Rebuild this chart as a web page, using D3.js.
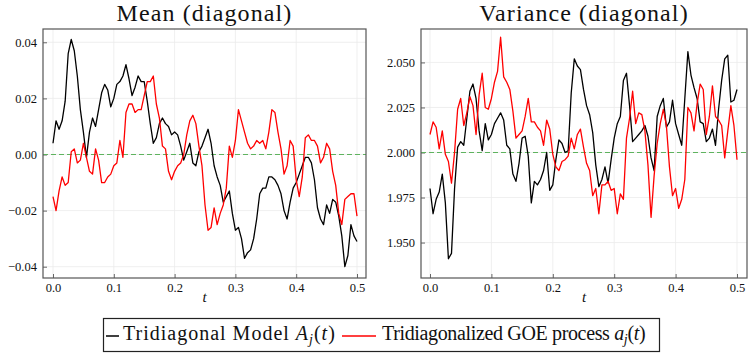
<!DOCTYPE html>
<html>
<head>
<meta charset="utf-8">
<script src="https://d3js.org/d3.v7.min.js"></script>
<style>
  body { margin: 0; background: #fff; }
</style>
</head>
<body>
<svg width="753" height="353"></svg>
<script>
// time grid, step 0.005
const t = d3.range(101).map(i => i / 200);

// mean (diagonal)
const meanModel = [
  0.004, 0.012, 0.009, 0.012, 0.019, 0.036, 0.041, 0.037, 0.028, 0.016,
  0.008, -0.001, 0.008, 0.013, 0.010, 0.016, 0.022, 0.025, 0.023, 0.017,
  0.020, 0.025, 0.026, 0.028, 0.032, 0.027, 0.021, 0.024, 0.028, 0.026,
  0.026, 0.019, 0.011, 0.004, 0.006, 0.011, 0.013, 0.011, 0.010, 0.007,
  0.008, 0.007, 0.003, -0.002, 0.001, 0.004, -0.003, -0.004, 0.001, 0.003,
  0.006, 0.009, 0.004, -0.004, -0.008, -0.011, -0.017, -0.015, -0.013, -0.021,
  -0.027, -0.026, -0.030, -0.037, -0.035, -0.034, -0.030, -0.023, -0.014, -0.012,
  -0.012, -0.008, -0.008, -0.009, -0.011, -0.014, -0.020, -0.023, -0.017, -0.012,
  -0.010, -0.007, -0.004, -0.001, -0.001, -0.003, -0.009, -0.019, -0.023, -0.025,
  -0.018, -0.021, -0.016, -0.017, -0.022, -0.029, -0.040, -0.036, -0.025, -0.029,
  -0.031
];
const meanGOE = [
  -0.015, -0.020, -0.013, -0.008, -0.011, -0.010, 0.001, 0.002, -0.003, -0.002,
  0.004, -0.001, -0.006, -0.007, 0.002, -0.002, -0.010, -0.010, -0.008, -0.007,
  -0.004, -0.003, 0.005, -0.001, 0.015, 0.018, 0.018, 0.015, 0.016, 0.016,
  0.021, 0.026, 0.026, 0.028, 0.018, 0.013, 0.003, 0.002, -0.006, -0.009,
  -0.006, -0.004, -0.003, 0.000, 0.007, 0.012, 0.014, 0.011, 0.003, -0.004,
  -0.018, -0.027, -0.026, -0.019, -0.025, -0.021, -0.018, -0.012, 0.003, -0.001,
  0.005, 0.016, 0.012, 0.008, 0.004, 0.002, 0.003, 0.005, 0.004, 0.005,
  0.002, 0.008, 0.016, 0.015, 0.008, 0.002, -0.007, -0.004, 0.005, 0.003,
  -0.009, -0.015, -0.008, 0.006, 0.007, 0.005, 0.005, 0.003, -0.003, -0.001,
  0.004, 0.002, -0.006, -0.011, -0.021, -0.025, -0.016, -0.015, -0.014, -0.014,
  -0.022
];

// variance (diagonal)
const varModel = [
  1.980, 1.966, 1.974, 1.978, 1.988, 1.972, 1.941, 1.944, 1.980, 2.003,
  2.006, 2.004, 2.019, 2.034, 2.038, 2.030, 2.012, 2.001, 2.016, 2.007,
  2.010, 2.016, 2.019, 2.022, 2.018, 2.004, 2.002, 1.988, 1.984, 1.994,
  2.008, 2.009, 1.998, 1.972, 1.984, 1.982, 1.985, 1.990, 2.000, 1.979,
  1.982, 1.996, 2.007, 2.005, 2.000, 2.001, 2.033, 2.052, 2.048, 2.046,
  2.035, 2.026, 2.021, 2.011, 1.993, 1.981, 1.985, 1.992, 1.983, 1.996,
  2.008, 2.016, 2.020, 2.040, 2.044, 2.026, 2.006, 2.008, 2.010, 2.012,
  2.015, 2.009, 1.997, 1.990, 2.020, 2.026, 2.030, 2.014, 2.017, 2.029,
  2.016, 2.010, 2.004, 2.030, 2.056, 2.043, 2.036, 2.030, 2.017, 2.016,
  2.006, 2.008, 2.013, 2.004, 2.024, 2.040, 2.052, 2.054, 2.028, 2.029,
  2.035
];
const varGOE = [
  2.010, 2.017, 2.014, 2.002, 2.012, 1.999, 1.995, 1.983, 2.000, 2.024,
  2.030, 2.015, 2.022, 2.031, 2.026, 2.010, 2.032, 2.044, 2.025, 2.024,
  2.030, 2.039, 2.045, 2.064, 2.042, 2.039, 2.035, 2.023, 2.008, 2.010,
  2.012, 2.020, 2.030, 2.017, 2.017, 2.014, 2.012, 2.004, 2.018, 2.013,
  1.999, 1.992, 1.990, 1.995, 1.996, 1.998, 2.008, 2.002, 2.010, 2.013,
  2.003, 1.994, 1.990, 1.976, 1.980, 1.966, 1.982, 1.982, 1.984, 1.979,
  1.980, 1.966, 1.977, 1.974, 2.008, 2.019, 2.034, 2.016, 2.022, 2.021,
  2.012, 1.993, 1.964, 1.987, 2.005, 2.016, 2.024, 2.015, 1.992, 1.976,
  1.980, 1.969, 1.974, 1.985, 2.025, 2.022, 2.012, 2.027, 2.038, 2.035,
  2.010, 2.020, 2.037, 2.020, 2.018, 2.015, 1.997, 2.012, 2.026, 2.015,
  1.996
];

const xTicks = [0, 0.1, 0.2, 0.3, 0.4, 0.5];
const meanTicks = [-0.04, -0.02, 0, 0.02, 0.04];
const varTicks = [1.950, 1.975, 2.000, 2.025, 2.050];

const seriesColors = ["#000000", "#ff0000"];
const serif = "'Liberation Serif', 'DejaVu Serif', serif";

const svg = d3.select("svg");

const panels = [
  { title: "Mean (diagonal)", left: 43, right: 366, top: 29, bottom: 278,
    xDomain: [-0.01645, 0.5148], yDomain: [-0.04403, 0.04474],
    yTicks: meanTicks, fmt: d3.format(".2f"), ref: 0, series: [meanModel, meanGOE] },
  { title: "Variance (diagonal)", left: 421, right: 747, top: 29, bottom: 278,
    xDomain: [-0.01466, 0.51628], yDomain: [1.93032, 2.06856],
    yTicks: varTicks, fmt: d3.format(".3f"), ref: 2, series: [varModel, varGOE] }
];

panels.forEach(p => {
  const x = d3.scaleLinear().domain(p.xDomain).range([p.left, p.right]);
  const y = d3.scaleLinear().domain(p.yDomain).range([p.bottom, p.top]);
  const g = svg.append("g");

  // grid
  g.append("g").selectAll("line").data(xTicks).join("line")
    .attr("x1", d => x(d)).attr("x2", d => x(d))
    .attr("y1", p.top).attr("y2", p.bottom)
    .attr("stroke", "#ebebeb").attr("stroke-width", 0.8);
  g.append("g").selectAll("line").data(p.yTicks).join("line")
    .attr("x1", p.left).attr("x2", p.right)
    .attr("y1", d => y(d)).attr("y2", d => y(d))
    .attr("stroke", "#ebebeb").attr("stroke-width", 0.8);

  // axes, ticks pointing inward
  const xAxis = g.append("g").attr("transform", `translate(0,${p.bottom})`)
    .call(d3.axisBottom(x).tickValues(xTicks).tickFormat(d3.format(".1f")).tickSize(-4).tickPadding(5));
  const yAxis = g.append("g").attr("transform", `translate(${p.left},0)`)
    .call(d3.axisLeft(y).tickValues(p.yTicks).tickFormat(p.fmt).tickSize(-4).tickPadding(6));
  [xAxis, yAxis].forEach(a => {
    a.attr("font-family", serif).attr("font-size", 12.5);
    a.select(".domain").remove();
    a.selectAll("line").attr("stroke", "#666");
    a.selectAll("text").attr("fill", "#111");
  });

  // reference line
  g.append("line")
    .attr("x1", p.left).attr("x2", p.right)
    .attr("y1", y(p.ref)).attr("y2", y(p.ref))
    .attr("stroke", "#5fb35f").attr("stroke-width", 1.1)
    .attr("stroke-dasharray", "5,3");

  // series
  const line = d3.line().x((d, i) => x(t[i])).y(d => y(d));
  p.series.forEach((s, k) => {
    g.append("path")
      .attr("d", line(s))
      .attr("fill", "none")
      .attr("stroke", seriesColors[k])
      .attr("stroke-width", 1.3)
      .attr("stroke-linejoin", "round");
  });

  // frame
  g.append("rect")
    .attr("x", p.left).attr("y", p.top)
    .attr("width", p.right - p.left).attr("height", p.bottom - p.top)
    .attr("fill", "none").attr("stroke", "#555").attr("stroke-width", 1.2);

  // title
  g.append("text")
    .attr("x", (p.left + p.right) / 2).attr("y", 21)
    .attr("text-anchor", "middle").attr("font-size", 24)
    .attr("letter-spacing", 1.1)
    .attr("font-family", serif).attr("fill", "#111")
    .text(p.title);

  // x label
  g.append("text")
    .attr("x", (p.left + p.right) / 2).attr("y", 302)
    .attr("text-anchor", "middle").attr("font-size", 15)
    .attr("font-family", serif).attr("font-style", "italic").attr("fill", "#111")
    .text("t");
});

// legend
const legend = svg.append("g");
legend.append("rect")
  .attr("x", 103.5).attr("y", 318.5).attr("width", 556).attr("height", 33)
  .attr("fill", "#fff").attr("stroke", "#222").attr("stroke-width", 1.2);

const legendItems = [
  { x1: 106, x2: 119, tx: 123, spacing: 1.0, name: "Tridiagonal Model ", sym: "A" },
  { x1: 342, x2: 376, tx: 382, spacing: -0.35, name: "Tridiagonalized GOE process ", sym: "a" }
];
legendItems.forEach((it, k) => {
  legend.append("line")
    .attr("x1", it.x1).attr("x2", it.x2).attr("y1", 336).attr("y2", 336)
    .attr("stroke", seriesColors[k]).attr("stroke-width", 1.5);
  const txt = legend.append("text").attr("x", it.tx).attr("y", 340)
    .attr("font-size", 20).attr("letter-spacing", it.spacing)
    .attr("font-family", serif).attr("fill", "#111");
  txt.append("tspan").text(it.name);
  txt.append("tspan").attr("font-style", "italic").text(it.sym);
  txt.append("tspan").attr("font-style", "italic").attr("font-size", 14).attr("dy", 4).text("j");
  txt.append("tspan").attr("dy", -4).text("(");
  txt.append("tspan").attr("font-style", "italic").text("t");
  txt.append("tspan").text(")");
});
</script>
</body>
</html>
